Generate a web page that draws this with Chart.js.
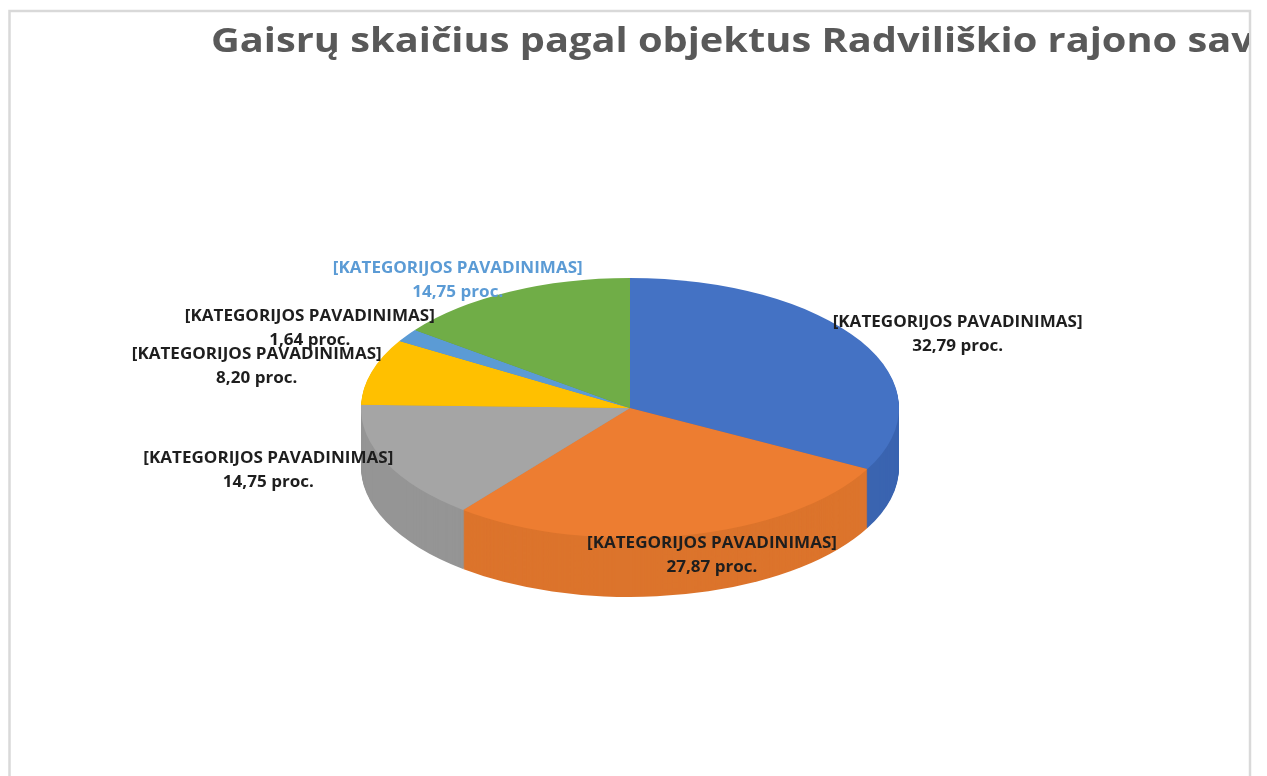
<!DOCTYPE html>
<html><head><meta charset="utf-8">
<script src="https://cdn.jsdelivr.net/npm/chart.js@4.4.0/dist/chart.umd.min.js"></script>
<style>html,body{margin:0;padding:0;background:#fff;}canvas{display:block}</style>
</head><body>
<canvas id="c" width="1267" height="776"></canvas>
<script>
// ---- data ----
const TITLE = "Gaisrų skaičius pagal objektus Radviliškio rajono savivaldybėje";
const categories = [
  "[KATEGORIJOS PAVADINIMAS]", "[KATEGORIJOS PAVADINIMAS]", "[KATEGORIJOS PAVADINIMAS]",
  "[KATEGORIJOS PAVADINIMAS]", "[KATEGORIJOS PAVADINIMAS]", "[KATEGORIJOS PAVADINIMAS]"
];
const values = [32.79, 27.87, 14.75, 8.20, 1.64, 14.75];
const sliceColors = ["#4472c4", "#ed7d31", "#a5a5a5", "#ffc000", "#5b9bd5", "#70ad47"];
const sideColors  = ["#3a64b0", "#dc742c", "#959595", "#e6ad00", "#5189bf", "#62983e"];
const labelColors = ["#1e1e1e", "#1e1e1e", "#1e1e1e", "#1e1e1e", "#1e1e1e", "#5b9bd5"];

// ---- layout / style ----
const TILT = 130 / 269;   // vertical squash of the pie top
const DEPTH = 59;         // thickness of the 3D side in px
const labelNudge = [[97, -7], [27, 20], [-118, 7], [-115, -5], [-97, -7], [-52, -11]];
const LABEL_FONT = "bold 15.5px 'Open Sans'";
const LABEL_SX = 1.1;
const TITLE_FONT = "bold 34px 'Open Sans'";
const TITLE_SX = 1.17;

function fmt(v){ return v.toFixed(2).replace('.', ',') + ' proc.'; }

function stretchedText(ctx, txt, x, y, sx){
  ctx.save();
  ctx.translate(x, y);
  ctx.scale(sx, 1);
  ctx.fillText(txt, 0, 0);
  ctx.restore();
}

const pie3d = {
  id: 'pie3d',
  beforeDraw(chart){
    const ctx = chart.ctx;
    ctx.save();
    ctx.fillStyle = '#fff';
    ctx.fillRect(0, 0, chart.width, chart.height);
    ctx.strokeStyle = '#d9d9d9';
    ctx.lineWidth = 2.5;
    ctx.strokeRect(9.5, 11, 1240.5, 800);
    ctx.restore();
  },
  beforeDatasetsDraw(chart){
    const ctx = chart.ctx;
    const arcs = chart.getDatasetMeta(0).data;
    ctx.save();
    if (!arcs.length) return;
    const cx = arcs[0].x, cy = arcs[0].y;
    ctx.translate(cx, cy); ctx.scale(1, TILT); ctx.translate(-cx, -cy);
    for (let d = DEPTH; d >= 1; d--) {
      const off = d / TILT;
      arcs.forEach((a, i) => {
        ctx.beginPath();
        ctx.moveTo(a.x, a.y + off);
        ctx.arc(a.x, a.y + off, a.outerRadius, a.startAngle, a.endAngle);
        ctx.closePath();
        ctx.fillStyle = sideColors[i];
        ctx.fill();
      });
    }
  },
  afterDatasetsDraw(chart){
    const ctx = chart.ctx;
    ctx.restore();
    const arcs = chart.getDatasetMeta(0).data;
    // labels
    ctx.save();
    ctx.font = LABEL_FONT;
    ctx.textAlign = 'center';
    ctx.textBaseline = 'middle';
    arcs.forEach((a, i) => {
      const mid = (a.startAngle + a.endAngle) / 2;
      const ex = a.x + a.outerRadius * Math.cos(mid);
      const ey = a.y + a.outerRadius * TILT * Math.sin(mid);
      const lx = ex + labelNudge[i][0];
      const ly = ey + labelNudge[i][1];
      ctx.fillStyle = labelColors[i];
      stretchedText(ctx, categories[i], lx, ly - 12, LABEL_SX);
      stretchedText(ctx, fmt(values[i]), lx, ly + 12, LABEL_SX);
    });
    ctx.restore();
    // title (clipped by the chart frame)
    ctx.save();
    ctx.beginPath();
    ctx.rect(11, 12, 1238, 760);
    ctx.clip();
    ctx.font = TITLE_FONT;
    ctx.fillStyle = '#595959';
    ctx.textAlign = 'left';
    ctx.textBaseline = 'alphabetic';
    stretchedText(ctx, TITLE, 211, 52, TITLE_SX);
    ctx.restore();
  }
};

new Chart(document.getElementById('c'), {
  type: 'pie',
  data: {
    labels: categories,
    datasets: [{ data: values, backgroundColor: sliceColors, borderWidth: 0 }]
  },
  options: {
    responsive: false,
    animation: false,
    layout: { padding: { left: 361, right: 368, top: 139, bottom: 99 } },
    plugins: { legend: { display: false }, title: { display: false }, tooltip: { enabled: false } }
  },
  plugins: [pie3d]
});
</script>
</body></html>
